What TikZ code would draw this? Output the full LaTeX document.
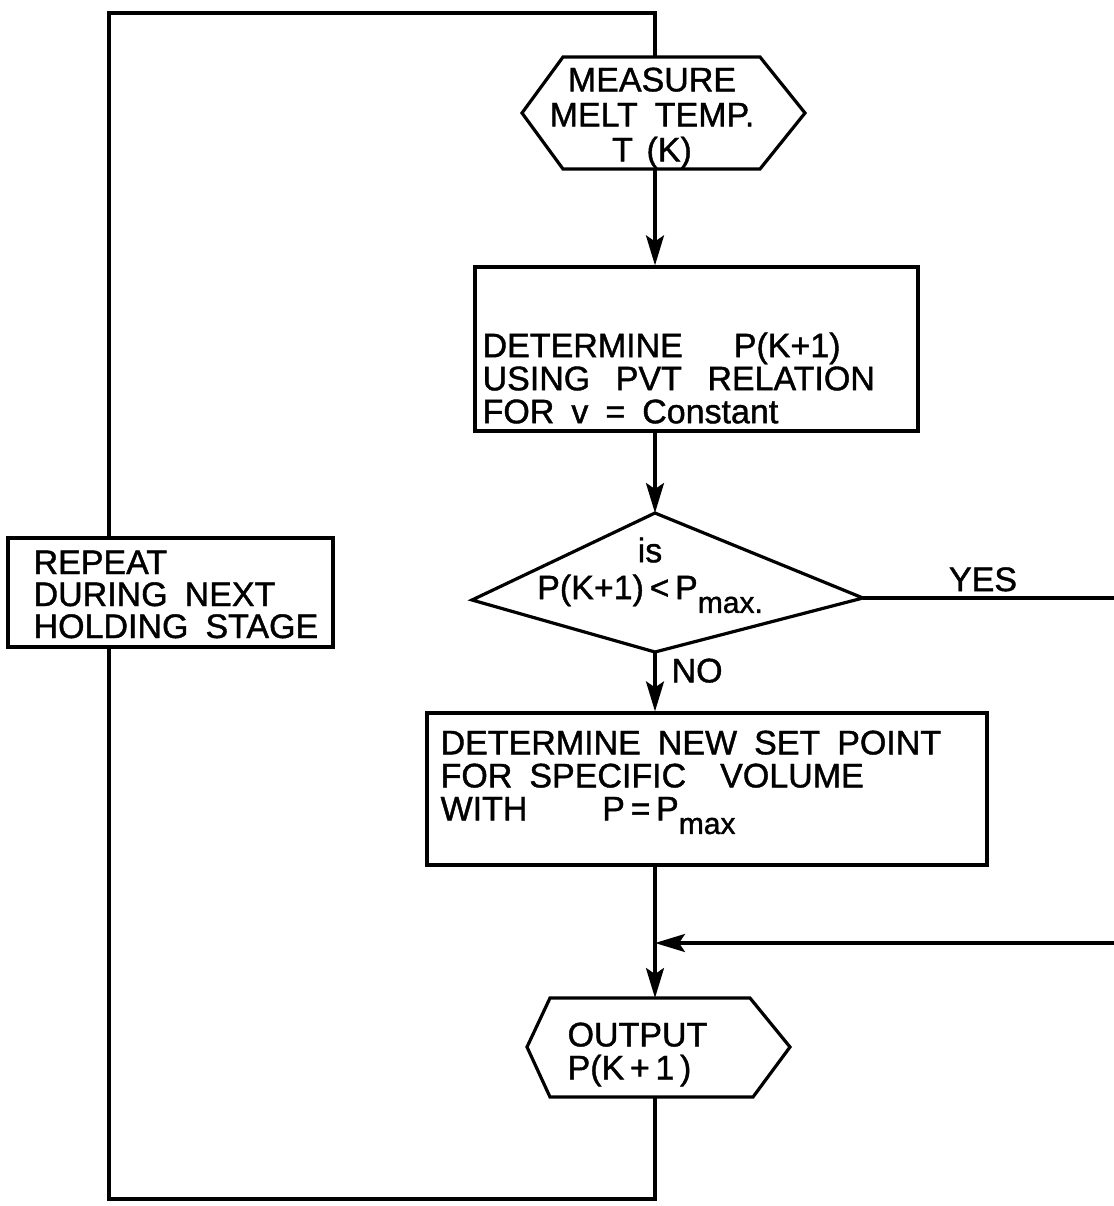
\documentclass[tikz,border=0pt]{standalone}
\usepackage{fontspec}
\setmainfont{Liberation Sans}[WordSpace=1.8,FakeBold=1.2]
\usetikzlibrary{arrows.meta}
\newcommand\lowsub[1]{\raisebox{-0.40em}{\fontsize{15}{15}\selectfont #1}}
\begin{document}
\begin{tikzpicture}[x=0.5pt,y=-0.5pt,
  line width=1.6pt, line join=miter,
  lbl/.style={inner sep=0pt, font=\fontsize{17}{16.5}\selectfont},
  txt/.style={lbl, align=left, anchor=north west},
  boxnode/.style={draw, fill=white, rectangle, inner sep=0pt},
  arr/.style={-{Stealth[length=15pt,width=9pt,inset=3pt]}},
]
\useasboundingbox (0,0) rectangle (1114,1206);

% named coordinates
\coordinate (h1top) at (655,57);
\coordinate (h1bot) at (655,169);
\coordinate (dtop) at (655,513);
\coordinate (dright) at (863,598);
\coordinate (dbot) at (655,652);
\coordinate (dleft) at (472,600);
\coordinate (merge) at (655,943);
\coordinate (h2top) at (655,998);
\coordinate (h2bot) at (655,1097);
\coordinate (rtop) at (1114,598);
\coordinate (rbot) at (1114,943);
\coordinate (lp1) at (655,1199);
\coordinate (lp2) at (109,1199);
\coordinate (lp3) at (109,13);
\coordinate (lp4) at (655,13);

% feedback loop (behind the REPEAT box)
\draw (h2bot) -- (lp1) -- (lp2) -- (lp3) -- (lp4) -- (h1top);

% hexagon 1
\draw (522,113) -- (563,57) -- (760,57) -- (805,113) -- (760,169) -- (563,169) -- cycle;
\node[lbl, align=center, font=\fontsize{17}{17.5}\selectfont] (t1) at (652,118)
  {MEASURE\\MELT TEMP.\\T\hspace{0.4em}(K)\hspace{0.6em}};

% box 1
\node[boxnode, minimum width=221.5pt, minimum height=82pt] (b1) at (696.5,349) {};
\node[txt] (t2) at (481,331)
  {DETERMINE\hspace{1.5em}P(K+1)\\USING\hspace{0.75em}PVT\hspace{0.75em}RELATION\\FOR\hspace{0.5em}v = Constant};

% decision diamond
\draw (dtop) -- (dright) -- (dbot) -- (dleft) -- cycle;
\node[lbl, align=center, anchor=north, font=\fontsize{17}{18.5}\selectfont] (t3) at (650,536)
  {is\\P(K+1)\,<\,P\lowsub{max.}};
\node[lbl, anchor=north west] (no) at (670,657) {NO};
\node[lbl, anchor=south] (yes) at (983,593) {YES};

% box 2
\node[boxnode, minimum width=280pt, minimum height=76pt] (b2) at (707,789) {};
\node[txt] (t4) at (439,729)
  {DETERMINE NEW SET POINT\\FOR SPECIFIC\hspace{1em}VOLUME\\WITH\hspace{2.2em}P\,=\,P\lowsub{max}};

% hexagon 2
\draw (527,1047) -- (550,998) -- (750,998) -- (790,1047) -- (753,1097) -- (550,1097) -- cycle;
\node[txt, font=\fontsize{17}{16.5}\selectfont] (t5) at (566,1021) {OUTPUT\\P(K\,+\,1\,)};

% repeat box
\node[boxnode, minimum width=162.5pt, minimum height=54.5pt] (rp) at (170.5,592.5) {};
\node[txt, font=\fontsize{17}{16}\selectfont] (t6) at (32,549)
  {REPEAT\\DURING NEXT\\HOLDING STAGE};

% connectors
\draw[arr] (h1bot) -- (h1bot |- b1.north);
\draw[arr] (b1.south -| dtop) -- (dtop);
\draw[arr] (dbot) -- (dbot |- b2.north);
\draw (dright) -- (rtop);
\draw (b2.south -| merge) -- (merge);
\draw[arr] (rbot) -- (merge);
\draw[arr] (merge) -- (h2top);
\end{tikzpicture}
\end{document}
